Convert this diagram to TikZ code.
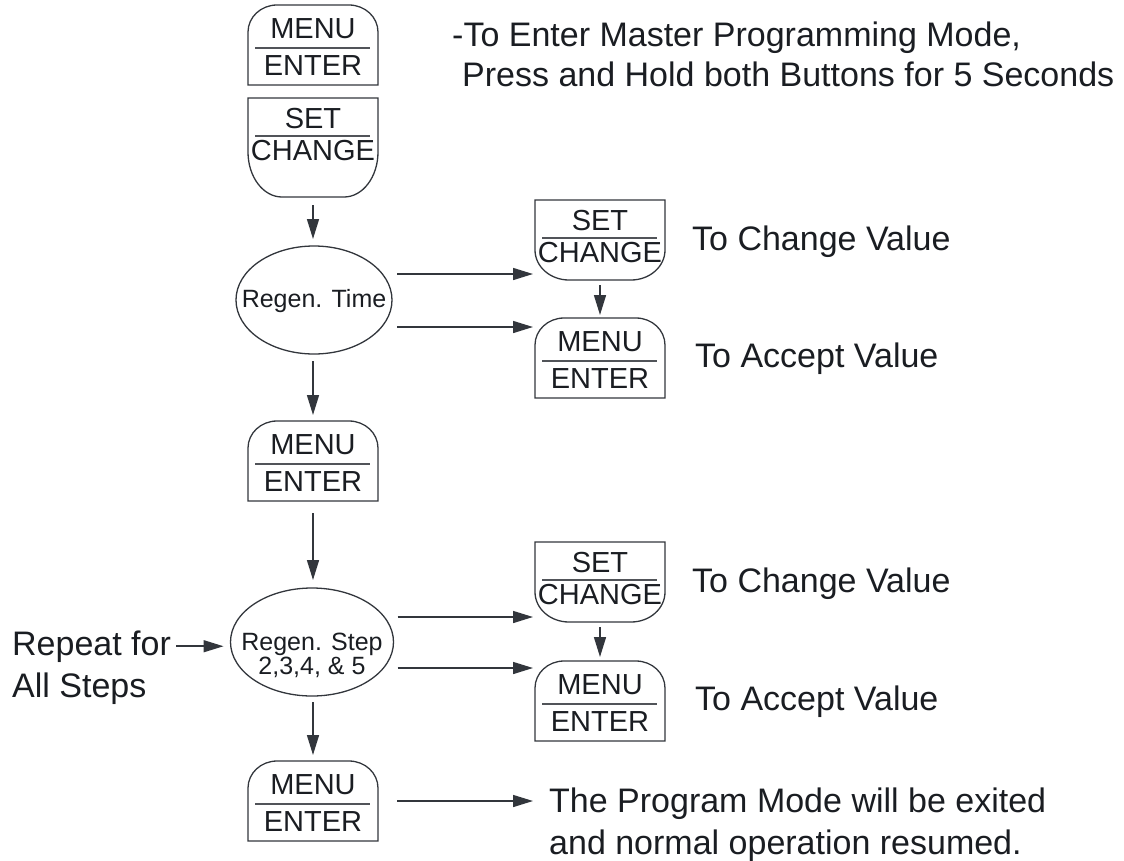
\documentclass[tikz,border=0pt]{standalone}
\usepackage{fontspec}
\setmainfont{Liberation Sans}
\usetikzlibrary{arrows.meta,shapes.geometric}

\definecolor{ink}{RGB}{26,29,34}
\definecolor{edge}{RGB}{50,54,60}

\tikzset{
  btnbox/.style={rectangle, draw=none, minimum width=130pt, inner sep=0pt, outer sep=0pt},
  outline/.style={draw=edge, line width=1.3pt},
  divider/.style={draw=edge!85, line width=1.1pt},
  keytext/.style={font=\fontsize{29}{29}\selectfont, text=ink, inner sep=0pt, anchor=base},
  bigtext/.style={font=\fontsize{34}{34}\selectfont, text=ink, inner sep=0pt, anchor=base west},
  statetext/.style={font=\fontsize{25}{25}\selectfont, text=ink, inner sep=0pt, anchor=base},
  state/.style={ellipse, draw=edge, line width=1.3pt, inner sep=0pt, outer sep=0pt},
  arr/.style={draw=edge, line width=1.5pt, -{Triangle[length=20pt,width=12pt]}},
}

% MENU / ENTER key with a rounded top: name, centre x, top y
\newcommand\menukey[3]{%
  \node[btnbox, minimum height=80pt] (#1) at (#2,#3+40) {};
  \draw[outline] (#1.south west) -- ([yshift=-27pt]#1.north west)
     arc[start angle=180,end angle=90,x radius=29pt,y radius=27pt]
     -- ([xshift=-29pt]#1.north east)
     arc[start angle=90,end angle=0,x radius=29pt,y radius=27pt]
     -- (#1.south east) -- cycle;
  \draw[divider] ([xshift=7pt,yshift=-43pt]#1.north west) -- ([xshift=-8pt,yshift=-43pt]#1.north east);
  \node[keytext] (#1-a) at (#2,#3+33) {MENU};
  \node[keytext] (#1-b) at (#2,#3+70) {ENTER};
}

% SET / CHANGE key with a rounded bottom: name, centre x, top y, height, corner height
\newcommand\setkey[5]{%
  \node[btnbox, minimum height=#4pt] (#1) at (#2,#3+#4/2) {};
  \draw[outline] (#1.north west) -- (#1.north east) -- ([yshift=#5pt]#1.south east)
     arc[start angle=0,end angle=-90,x radius=34pt,y radius=#5pt]
     -- ([xshift=34pt]#1.south west)
     arc[start angle=270,end angle=180,x radius=34pt,y radius=#5pt] -- cycle;
  \draw[divider] ([xshift=7pt,yshift=-38pt]#1.north west) -- ([xshift=-8pt,yshift=-38pt]#1.north east);
  \node[keytext] (#1-a) at (#2,#3+30) {SET};
  \node[keytext] (#1-b) at (#2,#3+62) {CHANGE};
}

\begin{document}
\begin{tikzpicture}[x=1pt,y=-1pt]
\useasboundingbox (0,0) rectangle (1124,860);

% keys of the left column
\menukey{m1}{313}{5}
\setkey{s1}{313}{98}{99}{45}
\menukey{m2}{313}{421}
\menukey{m3}{313}{761}

% keys of the right column
\setkey{s2}{600}{200}{80}{30}
\menukey{m4}{600}{318}
\setkey{s3}{600}{542}{80}{30}
\menukey{m5}{600}{661}

% states
\node[state, minimum width=156pt, minimum height=108pt] (e1) at (314,300) {};
\node[statetext] (e1t) at (314,307) {Regen. Time};
\node[state, minimum width=163pt, minimum height=108pt] (e2) at (312,642) {};
\node[statetext] (e2a) at (312,650) {Regen. Step};
\node[statetext] (e2b) at (312,674) {2,3,4, \& 5};

% texts
\node[bigtext] (intro1) at (452,46) {-To Enter Master Programming Mode,};
\node[bigtext] (intro2) at (462,86) {Press and Hold both Buttons for 5 Seconds};
\node[bigtext] (chg1) at (692,250) {To Change Value};
\node[bigtext] (acc1) at (695,367) {To Accept Value};
\node[bigtext] (chg2) at (692,592) {To Change Value};
\node[bigtext] (acc2) at (695,710) {To Accept Value};
\node[bigtext] (rep1) at (12,655) {Repeat for};
\node[bigtext] (rep2) at (12,697) {All Steps};
\node[bigtext] (ex1) at (549,812) {The Program Mode will be exited};
\node[bigtext] (ex2) at (549,854) {and normal operation resumed.};

% main flow
\draw[arr, shorten <=8pt, shorten >=7pt] (s1.south) -- (s1.south |- e1.north);
\draw[arr, shorten <=7pt, shorten >=6pt] (m2.north |- e1.south) -- (m2.north);
\draw[arr, shorten <=12pt, shorten >=8pt] (m2.south) -- (m2.south |- e2.north);
\draw[arr, shorten <=6pt, shorten >=6pt] (m3.north |- e2.south) -- (m3.north);

% branches to the right
\draw[arr, shorten >=2pt] ([xshift=5pt,yshift=26pt]e1.east) -- ([yshift=26pt]e1.east -| s2.west);
\draw[arr, shorten >=2pt] ([xshift=5pt,yshift=-27pt]e1.east) -- ([yshift=-27pt]e1.east -| m4.west);
\draw[arr, shorten <=5pt, shorten >=3pt] (s2.south) -- (m4.north);
\draw[arr, shorten >=2pt] ([xshift=4pt,yshift=25pt]e2.east) -- ([yshift=25pt]e2.east -| s3.west);
\draw[arr, shorten >=2pt] ([xshift=4pt,yshift=-26pt]e2.east) -- ([yshift=-26pt]e2.east -| m5.west);
\draw[arr, shorten <=5pt, shorten >=4pt] (s3.south) -- (m5.north);

% loop entry and exit
\draw[arr, shorten <=5pt, shorten >=7pt] (rep1.east) -- (rep1.east -| e2.west);
\draw[arr, shorten <=19pt, shorten >=16pt] (m3.east) -- (m3.east -| ex1.west);
\end{tikzpicture}
\end{document}
